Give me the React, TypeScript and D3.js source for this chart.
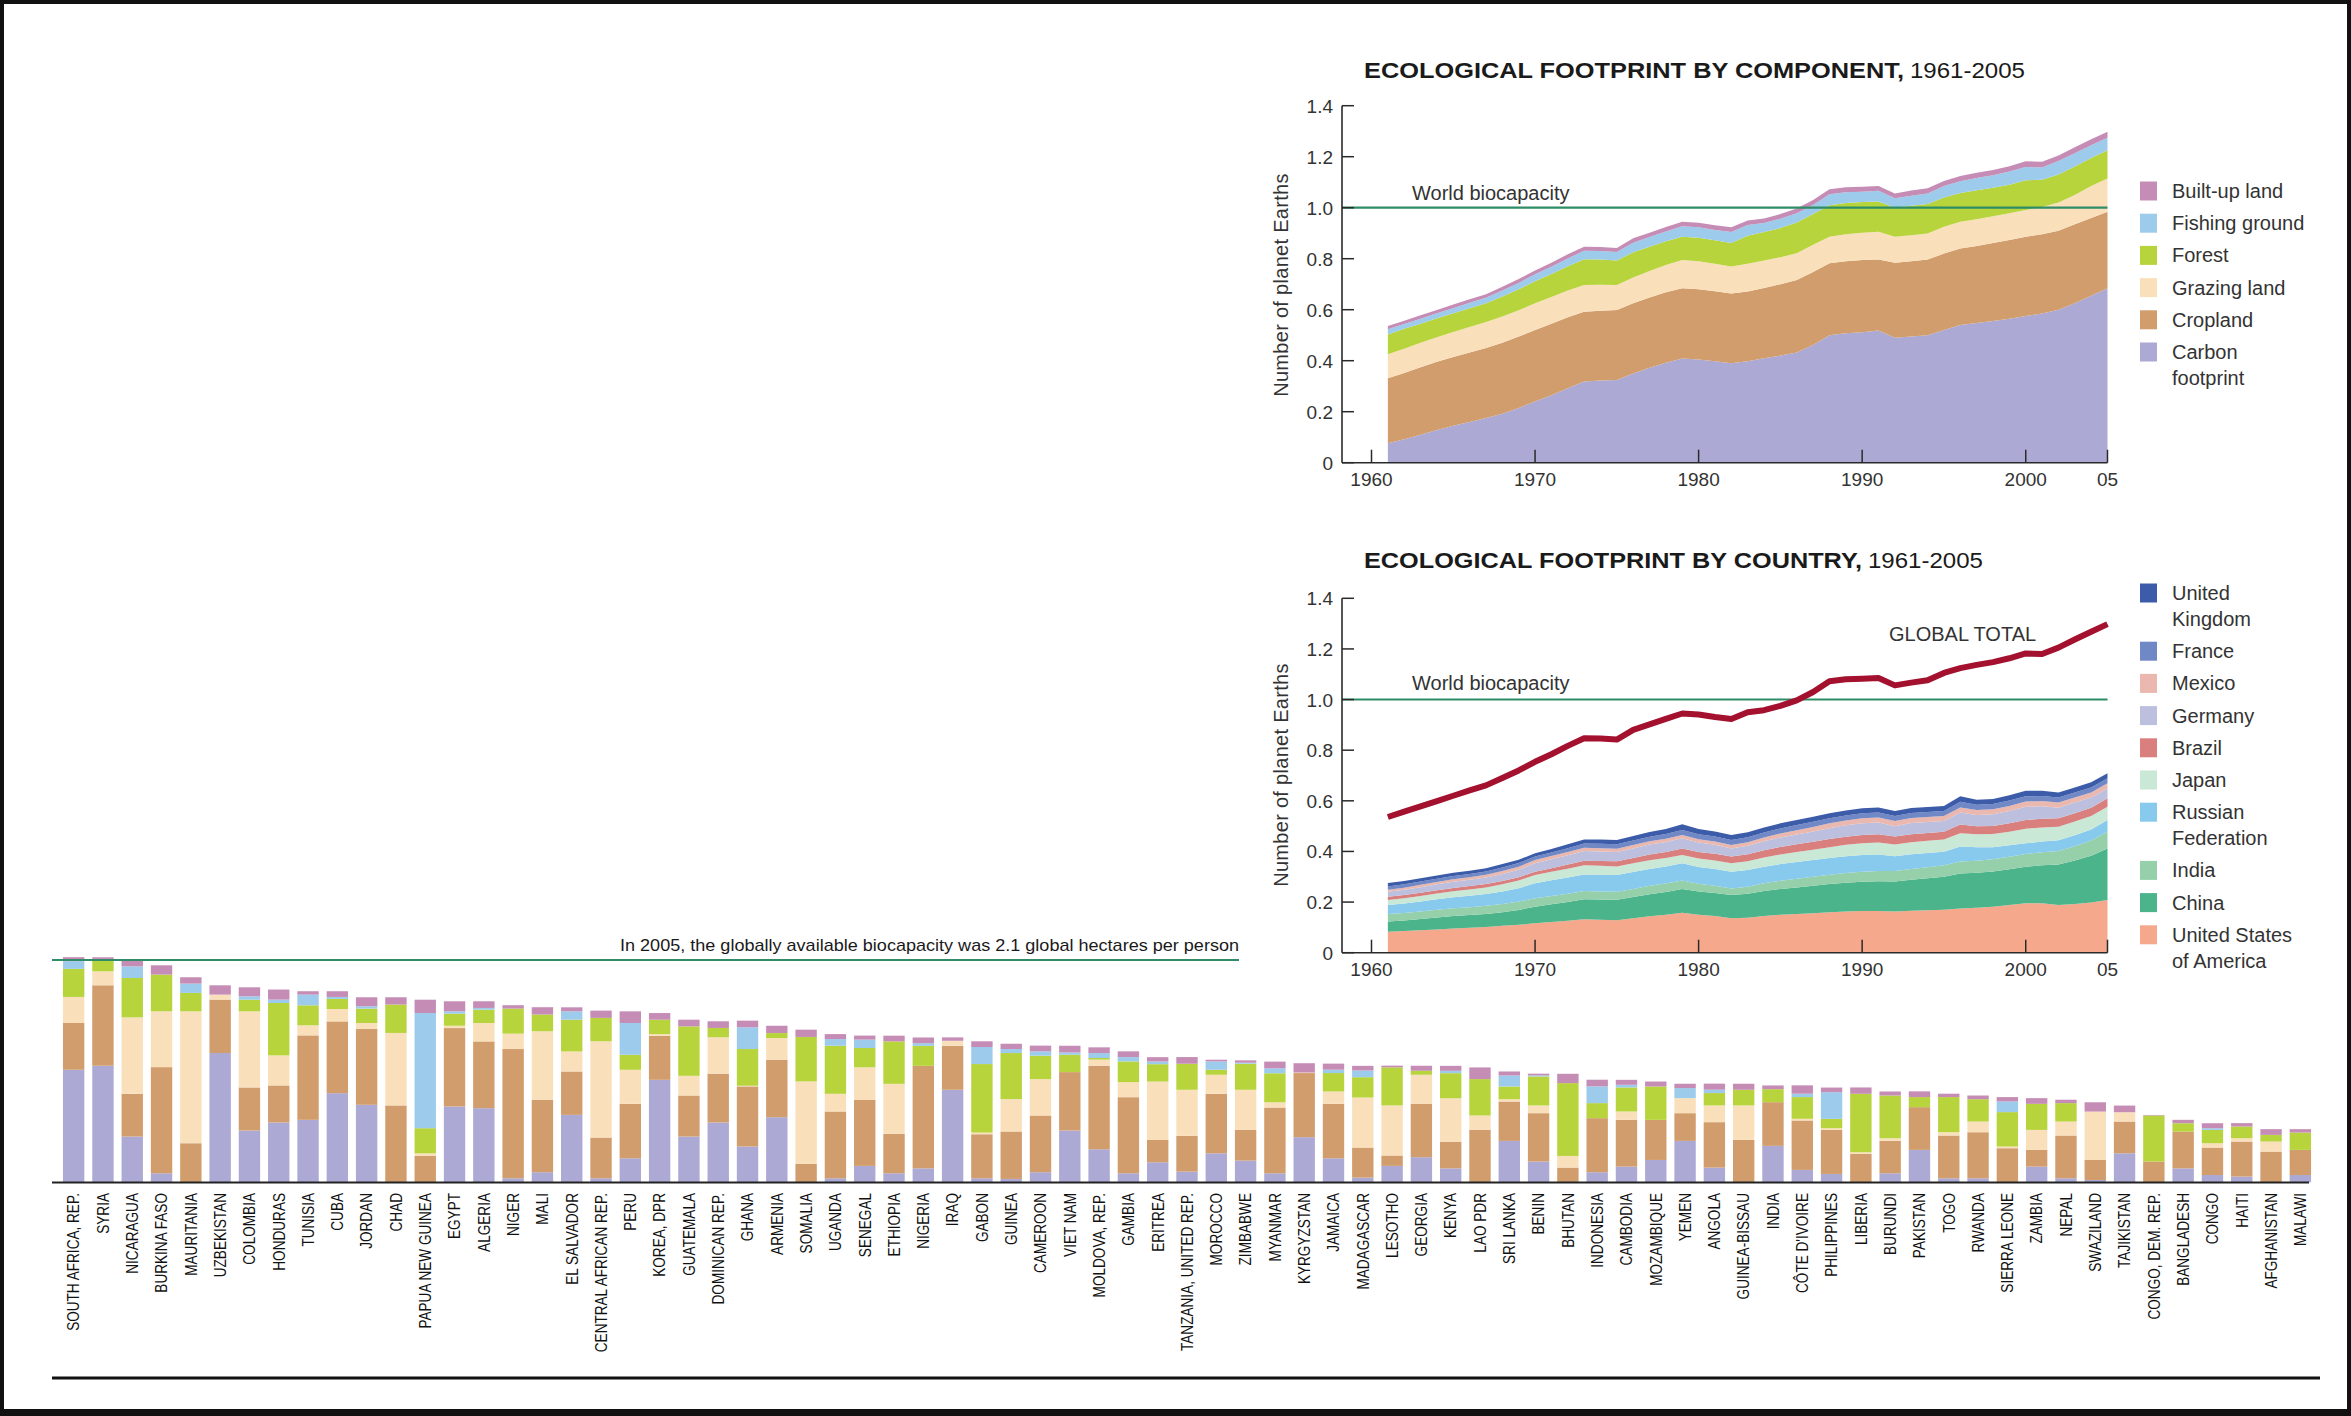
import React from 'react';
import * as d3 from 'd3';

const W = 2351;
const H = 1416;
const FONT = "'Liberation Sans', Arial, Helvetica, sans-serif";

// ---- time series (planet Earths) ----
const YEARS = [1961, 1962, 1963, 1964, 1965, 1966, 1967, 1968, 1969, 1970, 1971, 1972, 1973, 1974, 1975,
  1976, 1977, 1978, 1979, 1980, 1981, 1982, 1983, 1984, 1985, 1986, 1987, 1988, 1989, 1990,
  1991, 1992, 1993, 1994, 1995, 1996, 1997, 1998, 1999, 2000, 2001, 2002, 2003, 2004, 2005];

const CARBON = [.076, .092, .110, .128, .145, .160, .175, .192, .215, .240, .265, .292, .318, .322, .324,
  .350, .372, .392, .409, .405, .398, .390, .398, .410, .420, .432, .462, .500, .508, .512,
  .518, .490, .495, .500, .520, .540, .548, .556, .565, .575, .585, .600, .625, .655, .684];
const CROPLAND = [.255, .260, .264, .268, .270, .272, .275, .278, .280, .280, .280, .278, .274, .274, .275,
  .275, .276, .276, .275, .275, .274, .274, .273, .275, .280, .284, .286, .282, .282, .283,
  .279, .294, .295, .297, .300, .300, .302, .306, .308, .311, .311, .310, .310, .305, .300];
const GRAZING = [.094, .095, .096, .096, .098, .100, .102, .103, .103, .105, .105, .105, .105, .102, .098,
  .101, .104, .107, .111, .110, .108, .105, .109, .108, .106, .105, .107, .104, .106, .107,
  .109, .102, .102, .102, .105, .105, .105, .104, .105, .105, .107, .110, .115, .125, .131];
const FOREST = [.078, .078, .075, .074, .073, .074, .073, .079, .082, .087, .090, .095, .101, .099, .096,
  .099, .095, .093, .091, .092, .092, .093, .110, .112, .114, .121, .120, .124, .122, .120,
  .118, .114, .116, .116, .115, .113, .113, .112, .112, .117, .107, .110, .112, .110, .110];
const FISHING = [.020, .019, .020, .020, .020, .021, .022, .023, .025, .027, .028, .031, .033, .033, .033,
  .038, .038, .039, .041, .041, .041, .043, .042, .035, .037, .036, .036, .043, .043, .041,
  .042, .037, .039, .041, .045, .046, .048, .049, .052, .052, .048, .053, .052, .050, .049];
const BUILT_UP = [.013, .013, .013, .013, .014, .014, .014, .015, .015, .015, .016, .016, .016, .016, .016,
  .017, .017, .017, .018, .018, .018, .018, .018, .018, .018, .019, .019, .019, .019, .019,
  .019, .019, .020, .020, .020, .020, .021, .021, .021, .022, .022, .022, .023, .023, .024];

const USA = [.083, .086, .089, .092, .096, .099, .102, .106, .110, .116, .121, .126, .132, .130, .128,
  .136, .144, .150, .158, .150, .145, .136, .138, .145, .150, .153, .156, .160, .163, .165,
  .165, .163, .166, .168, .170, .175, .178, .182, .188, .195, .195, .188, .192, .198, .208];
const CHINA = [.040, .041, .044, .047, .049, .050, .051, .054, .059, .066, .070, .074, .079, .080, .081,
  .084, .087, .090, .094, .092, .091, .092, .095, .099, .102, .105, .108, .111, .113, .115,
  .117, .118, .122, .126, .130, .138, .138, .139, .142, .145, .150, .160, .172, .185, .204];
const INDIA = [.030, .030, .030, .031, .031, .031, .032, .032, .033, .033, .033, .033, .033, .032, .032,
  .032, .033, .033, .033, .030, .028, .026, .028, .030, .032, .034, .036, .037, .039, .040,
  .041, .042, .043, .044, .045, .047, .047, .048, .049, .050, .052, .054, .057, .060, .066];
const RUSSIA = [.035, .037, .039, .041, .043, .045, .047, .050, .053, .059, .062, .064, .065, .066, .066,
  .067, .067, .068, .068, .067, .067, .066, .066, .066, .066, .066, .066, .066, .066, .066,
  .065, .058, .058, .056, .054, .060, .054, .048, .045, .042, .042, .042, .043, .044, .046];
const JAPAN = [.020, .021, .022, .023, .024, .025, .026, .028, .030, .033, .034, .035, .036, .035, .034,
  .034, .034, .033, .033, .033, .033, .033, .034, .036, .038, .040, .041, .043, .045, .046,
  .047, .046, .047, .048, .048, .052, .051, .052, .054, .058, .056, .054, .054, .053, .053];
const BRAZIL = [.013, .013, .013, .013, .013, .013, .013, .013, .013, .013, .014, .016, .018, .019, .020,
  .021, .023, .024, .026, .026, .027, .027, .028, .029, .030, .030, .031, .032, .032, .033,
  .033, .032, .032, .031, .031, .034, .032, .032, .033, .034, .034, .033, .033, .033, .033];
const GERMANY = [.020, .021, .022, .023, .024, .025, .026, .028, .030, .033, .035, .037, .039, .038, .037,
  .038, .039, .039, .040, .037, .035, .032, .033, .035, .037, .039, .041, .043, .045, .046,
  .046, .041, .044, .043, .042, .048, .044, .046, .049, .053, .050, .042, .042, .040, .039];
const MEXICO = [.008, .008, .009, .009, .010, .010, .011, .012, .012, .013, .013, .013, .013, .013, .013,
  .013, .013, .013, .013, .013, .013, .013, .014, .015, .016, .017, .018, .019, .019, .020,
  .020, .020, .020, .020, .020, .020, .020, .020, .020, .020, .020, .020, .020, .020, .020];
const FRANCE = [.013, .013, .013, .013, .013, .013, .013, .014, .014, .014, .014, .015, .016, .017, .017,
  .018, .018, .019, .020, .020, .020, .020, .020, .020, .020, .020, .020, .020, .020, .020,
  .020, .020, .020, .020, .020, .022, .020, .020, .021, .021, .020, .020, .020, .020, .020];
const UK = [.013, .013, .013, .013, .013, .013, .013, .013, .013, .013, .014, .015, .016, .017, .017,
  .018, .019, .020, .022, .021, .020, .020, .020, .020, .020, .020, .020, .020, .020, .020,
  .020, .020, .020, .020, .020, .022, .020, .020, .021, .022, .021, .020, .020, .020, .020];

// ---- per-country footprint 2005 (global hectares per person) ----
const COUNTRIES = ['SOUTH AFRICA, REP.', 'SYRIA', 'NICARAGUA', 'BURKINA FASO', 'MAURITANIA', 'UZBEKISTAN',
  'COLOMBIA', 'HONDURAS', 'TUNISIA', 'CUBA', 'JORDAN', 'CHAD', 'PAPUA NEW GUINEA', 'EGYPT', 'ALGERIA',
  'NIGER', 'MALI', 'EL SALVADOR', 'CENTRAL AFRICAN REP.', 'PERU', 'KOREA, DPR', 'GUATEMALA',
  'DOMINICAN REP.', 'GHANA', 'ARMENIA', 'SOMALIA', 'UGANDA', 'SENEGAL', 'ETHIOPIA', 'NIGERIA', 'IRAQ',
  'GABON', 'GUINEA', 'CAMEROON', 'VIET NAM', 'MOLDOVA, REP.', 'GAMBIA', 'ERITREA', 'TANZANIA, UNITED REP.',
  'MOROCCO', 'ZIMBABWE', 'MYANMAR', 'KYRGYZSTAN', 'JAMAICA', 'MADAGASCAR', 'LESOTHO', 'GEORGIA', 'KENYA',
  'LAO PDR', 'SRI LANKA', 'BENIN', 'BHUTAN', 'INDONESIA', 'CAMBODIA', 'MOZAMBIQUE', 'YEMEN', 'ANGOLA',
  'GUINEA-BISSAU', 'INDIA', "CÔTE D'IVOIRE", 'PHILIPPINES', 'LIBERIA', 'BURUNDI', 'PAKISTAN', 'TOGO',
  'RWANDA', 'SIERRA LEONE', 'ZAMBIA', 'NEPAL', 'SWAZILAND', 'TAJIKISTAN', 'CONGO, DEM. REP.',
  'BANGLADESH', 'CONGO', 'HAITI', 'AFGHANISTAN', 'MALAWI'];

const BAR_CARBON = [1.063, 1.101, .432, .085, 0, 1.221, .489, .565, .590, .842, .732, 0, 0, .716, .700,
  .038, .095, .637, .038, .227, .968, .432, .565, .338, .615, 0, .038, .155, .085, .132, .874,
  .038, .032, .095, .489, .312, .085, .189, .101, .274, .205, .085, .426, .227, .044, .155, .237, .132,
  0, .391, .196, 0, .095, .148, .211, .391, .139, 0, .344, .117, .079, 0, .085, .306, .038,
  .038, 0, .148, .038, .022, .274, 0, .132, .069, .054, 0, .069];
const BAR_CROPLAND = [.442, .760, .404, 1.003, .369, .505, .407, .350, .798, .678, .716, .726, .249, .741, .631,
  1.221, .685, .410, .385, .514, .416, .388, .461, .568, .543, .174, .631, .625, .372, .968, .416,
  .416, .448, .536, .552, .789, .719, .211, .338, .562, .290, .621, .606, .514, .284, .098, .505, .252,
  .495, .372, .457, .139, .511, .442, .379, .262, .429, .401, .413, .467, .416, .268, .306, .404, .404,
  .435, .322, .158, .404, .189, .300, .196, .347, .259, .331, .290, .237];
const BAR_GRAZING = [.246, .132, .722, .527, 1.246, .047, .719, .284, .095, .117, .057, .685, .025, .022, .174,
  .145, .647, .189, .909, .322, .016, .186, .344, .006, .205, .779, .167, .306, .473, 0, .047,
  .016, .306, .344, 0, .058, .142, .552, .435, .180, .379, .050, .005, .117, .473, .473, .274, .410,
  .136, .022, .073, .110, 0, .079, 0, .142, .158, .325, 0, .016, .016, .016, .025, 0, .032,
  .101, .016, .189, .132, .457, .088, 0, 0, .041, .032, .095, 0];
const BAR_FOREST = [.265, .117, .372, .347, .174, 0, .110, .495, .189, .095, .136, .268, .237, .114, .126,
  .237, .158, .300, .221, .142, .136, .467, .088, .347, .047, .420, .454, .183, .401, .189, 0,
  .647, .435, .221, .164, .015, .196, .164, .246, .047, .246, .274, 0, .174, .192, .360, .038, .237,
  .344, .120, .274, .688, .142, .227, .315, 0, .117, .148, .123, .205, .088, .552, .404, .095, .331,
  .211, .325, .246, .174, 0, 0, .435, .079, .126, .110, .063, .164];
const BAR_FISHING = [.073, 0, .110, 0, .088, 0, .032, .032, .101, .019, .022, 0, 1.088, .022, .016,
  0, 0, .079, 0, .300, 0, 0, 0, .205, 0, 0, .063, .079, 0, .025, 0,
  .161, .038, .041, .022, .047, .041, .025, 0, .079, .010, .047, 0, .032, .063, 0, 0, .022,
  0, .104, .010, 0, .158, .025, 0, .095, .032, 0, 0, .032, .252, 0, 0, 0, 0,
  0, .101, 0, 0, 0, 0, 0, 0, .016, 0, 0, 0];
const BAR_BUILT_UP = [.038, .016, .063, .088, .060, .088, .085, .095, .032, .054, .085, .069, .126, .095, .063,
  .032, .069, .038, .069, .110, .063, .063, .063, .063, .069, .069, .047, .038, .054, .054, .032,
  .054, .050, .054, .063, .054, .054, .041, .063, .016, .022, .063, .088, .057, .044, .016, .047, .047,
  .110, .038, .016, .088, .063, .047, .047, .041, .057, .057, .035, .079, .044, .060, .038, .054, .032,
  .035, .041, .054, .032, .088, .063, .005, .032, .047, .032, .054, .032];

const Y_TICKS = [0, 0.2, 0.4, 0.6, 0.8, 1.0, 1.2, 1.4];
const X_TICKS = [1960, 1970, 1980, 1990, 2000, 2005];
const X_TICK_LABELS = ['1960', '1970', '1980', '1990', '2000', '05'];

const COMP_KEYS = ['carbon', 'cropland', 'grazing', 'forest', 'fishing', 'builtUp'];
const COMP_COLORS: Record<string, string> = {
  carbon: '#ada9d5', cropland: '#d29d6d', grazing: '#f9e0bb',
  forest: '#b7d43d', fishing: '#9dcbec', builtUp: '#c58db6',
};
const COMP_LEGEND = [
  { key: 'builtUp', lines: ['Built-up land'] },
  { key: 'fishing', lines: ['Fishing ground'] },
  { key: 'forest', lines: ['Forest'] },
  { key: 'grazing', lines: ['Grazing land'] },
  { key: 'cropland', lines: ['Cropland'] },
  { key: 'carbon', lines: ['Carbon', 'footprint'] },
];

const NATION_KEYS = ['usa', 'china', 'india', 'russia', 'japan', 'brazil', 'germany', 'mexico', 'france', 'uk'];
const NATION_COLORS: Record<string, string> = {
  usa: '#f5a88c', china: '#4bb48a', india: '#95d0aa', russia: '#88c9ee', japan: '#c9e8d6',
  brazil: '#d9807f', germany: '#bcc0de', mexico: '#eab8ae', france: '#7089c6', uk: '#3c5ca9',
};
const NATION_LEGEND = [
  { key: 'uk', lines: ['United', 'Kingdom'] },
  { key: 'france', lines: ['France'] },
  { key: 'mexico', lines: ['Mexico'] },
  { key: 'germany', lines: ['Germany'] },
  { key: 'brazil', lines: ['Brazil'] },
  { key: 'japan', lines: ['Japan'] },
  { key: 'russia', lines: ['Russian', 'Federation'] },
  { key: 'india', lines: ['India'] },
  { key: 'china', lines: ['China'] },
  { key: 'usa', lines: ['United States', 'of America'] },
];

const GREEN = '#2e8d66';
const AXIS = '#2a2a2a';

const compTable = YEARS.map((year, i) => ({
  year, carbon: CARBON[i], cropland: CROPLAND[i], grazing: GRAZING[i],
  forest: FOREST[i], fishing: FISHING[i], builtUp: BUILT_UP[i],
}));
const nationTable = YEARS.map((year, i) => ({
  year, usa: USA[i], china: CHINA[i], india: INDIA[i], russia: RUSSIA[i], japan: JAPAN[i],
  brazil: BRAZIL[i], germany: GERMANY[i], mexico: MEXICO[i], france: FRANCE[i], uk: UK[i],
}));
const barTable = COUNTRIES.map((name, i) => ({
  name, carbon: BAR_CARBON[i], cropland: BAR_CROPLAND[i], grazing: BAR_GRAZING[i],
  forest: BAR_FOREST[i], fishing: BAR_FISHING[i], builtUp: BAR_BUILT_UP[i],
}));

const xYear = d3.scaleLinear().domain([1960, 2005]).range([1371.5, 2107.5]);
const AXIS_X = 1342;

const Axes = ({ y, title, titleEnd, labelY }: any) => (
  <g fontFamily={FONT}>
    <text x={1364} y={y(0) - 385} fontSize={22} fontWeight="bold" fill="#1a1a1a"
      textLength={titleEnd[0]} lengthAdjust="spacingAndGlyphs">{title}</text>
    <text x={1364 + titleEnd[0] + 6} y={y(0) - 385} fontSize={22} fill="#1a1a1a"
      textLength={titleEnd[1]} lengthAdjust="spacingAndGlyphs">1961-2005</text>
    <line x1={AXIS_X} x2={AXIS_X} y1={y(1.4)} y2={y(0)} stroke={AXIS} strokeWidth={1.6} />
    <line x1={AXIS_X} x2={xYear(2005)} y1={y(0)} y2={y(0)} stroke={AXIS} strokeWidth={1.6} />
    {Y_TICKS.map(t => (
      <g key={t}>
        <line x1={AXIS_X} x2={AXIS_X + 12} y1={y(t)} y2={y(t)} stroke={AXIS} strokeWidth={1.5} />
        <text x={1333} y={y(t) + 7} textAnchor="end" fontSize={19} fill="#333">{t === 0 ? '0' : t.toFixed(1)}</text>
      </g>
    ))}
    {X_TICKS.map((t, i) => (
      <g key={t}>
        <line x1={xYear(t)} x2={xYear(t)} y1={y(0)} y2={y(0) - 13} stroke={AXIS} strokeWidth={1.5} />
        <text x={xYear(t)} y={y(0) + 23} textAnchor="middle" fontSize={19} fill="#333">{X_TICK_LABELS[i]}</text>
      </g>
    ))}
    <text transform={`translate(1288, ${labelY}) rotate(-90)`} textAnchor="middle" fontSize={20}
      fill="#333" letterSpacing={0.3}>Number of planet Earths</text>
  </g>
);

const Legend = ({ items, colors, startY }: any) => {
  let cy = startY;
  const out: any[] = [];
  items.forEach((it: any) => {
    out.push(
      <g key={it.key}>
        <rect x={2140} y={cy - 9.5} width={17} height={19} fill={colors[it.key]} />
        {it.lines.map((l: string, j: number) => (
          <text key={j} x={2172} y={cy + 7 + j * 26} fontSize={20} fill="#333" fontFamily={FONT}>{l}</text>
        ))}
      </g>
    );
    cy += 32.2 + (it.lines.length - 1) * 26;
  });
  return <g>{out}</g>;
};

export default function App() {
  // top chart: components
  const yComp = d3.scaleLinear().domain([0, 1.4]).range([462.7, 105.7]);
  const compSeries = d3.stack<any>().keys(COMP_KEYS)(compTable);
  const compArea = d3.area<any>()
    .x(d => xYear(d.data.year))
    .y0(d => yComp(d[0]))
    .y1(d => yComp(d[1]));

  // middle chart: countries
  const yNation = d3.scaleLinear().domain([0, 1.4]).range([952.7, 598.3]);
  const nationSeries = d3.stack<any>().keys(NATION_KEYS)(nationTable);
  const nationArea = d3.area<any>()
    .x(d => xYear(d.data.year))
    .y0(d => yNation(d[0]))
    .y1(d => yNation(d[1]));
  const totalLine = d3.line<any>()
    .x(d => xYear(d.year))
    .y(d => yNation(d3.sum(COMP_KEYS, k => d[k])));

  // bottom chart: countries 2005
  const xBar = d3.scaleBand<string>().domain(COUNTRIES).range([59, 2315]).paddingInner(0.27).paddingOuter(0.135);
  const yBar = d3.scaleLinear().domain([0, 2.1]).range([1182.3, 960]);
  const barSeries = d3.stack<any>().keys(COMP_KEYS)(barTable);

  return (
    <svg width={W} height={H} style={{ position: 'absolute', left: 0, top: 0, display: 'block', background: '#fff' }}
      fontFamily={FONT}>
      <rect x={0} y={0} width={W} height={H} fill="#fff" />

      {/* component chart */}
      {compSeries.map(s => (
        <path key={s.key} d={compArea(s) || ''} fill={COMP_COLORS[s.key]} />
      ))}
      <line x1={AXIS_X} x2={xYear(2005)} y1={yComp(1)} y2={yComp(1)} stroke={GREEN} strokeWidth={2.2} />
      <text x={1412} y={200} fontSize={20} fill="#333">World biocapacity</text>
      <Axes y={yComp} title="ECOLOGICAL FOOTPRINT BY COMPONENT," titleEnd={[540, 115]} labelY={285} />
      <Legend items={COMP_LEGEND} colors={COMP_COLORS} startY={191} />

      {/* country chart */}
      {nationSeries.map(s => (
        <path key={s.key} d={nationArea(s) || ''} fill={NATION_COLORS[s.key]} />
      ))}
      <line x1={AXIS_X} x2={xYear(2005)} y1={yNation(1)} y2={yNation(1)} stroke={GREEN} strokeWidth={2} />
      <text x={1412} y={690} fontSize={20} fill="#333">World biocapacity</text>
      <path d={totalLine(compTable) || ''} fill="none" stroke="#a3112f" strokeWidth={6} strokeLinejoin="round" />
      <text x={1889} y={641} fontSize={20} fill="#333">GLOBAL TOTAL</text>
      <Axes y={yNation} title="ECOLOGICAL FOOTPRINT BY COUNTRY," titleEnd={[498, 115]} labelY={775} />
      <Legend items={NATION_LEGEND} colors={NATION_COLORS} startY={593} />

      {/* bars by country */}
      {barSeries.map(s => (
        <g key={s.key} fill={COMP_COLORS[s.key]}>
          {s.map((d: any) => (
            <rect key={d.data.name} x={xBar(d.data.name)} width={xBar.bandwidth()}
              y={yBar(d[1])} height={Math.max(0, yBar(d[0]) - yBar(d[1]))} />
          ))}
        </g>
      ))}
      <line x1={52} x2={1239} y1={yBar(2.1)} y2={yBar(2.1)} stroke={GREEN} strokeWidth={2.2} />
      <text x={1239} y={951} textAnchor="end" fontSize={17} fill="#1a1a1a"
        textLength={619} lengthAdjust="spacingAndGlyphs">
        In 2005, the globally available biocapacity was 2.1 global hectares per person
      </text>
      <line x1={52} x2={2309} y1={1182.5} y2={1182.5} stroke="#222" strokeWidth={2.2} />
      {COUNTRIES.map(c => {
        const cx = (xBar(c) || 0) + xBar.bandwidth() / 2;
        return (
          <text key={c} transform={`translate(${cx + 5.8}, 1193) rotate(-90) scale(0.85, 1)`}
            textAnchor="end" fontSize={16} fill="#111">{c}</text>
        );
      })}

      <line x1={52} x2={2320} y1={1378} y2={1378} stroke="#111" strokeWidth={3} />
      <rect x={2} y={2} width={W - 4} height={H - 6} fill="none" stroke="#111" strokeWidth={4} />
      <rect x={0} y={1409} width={W} height={7} fill="#111" />
    </svg>
  );
}
